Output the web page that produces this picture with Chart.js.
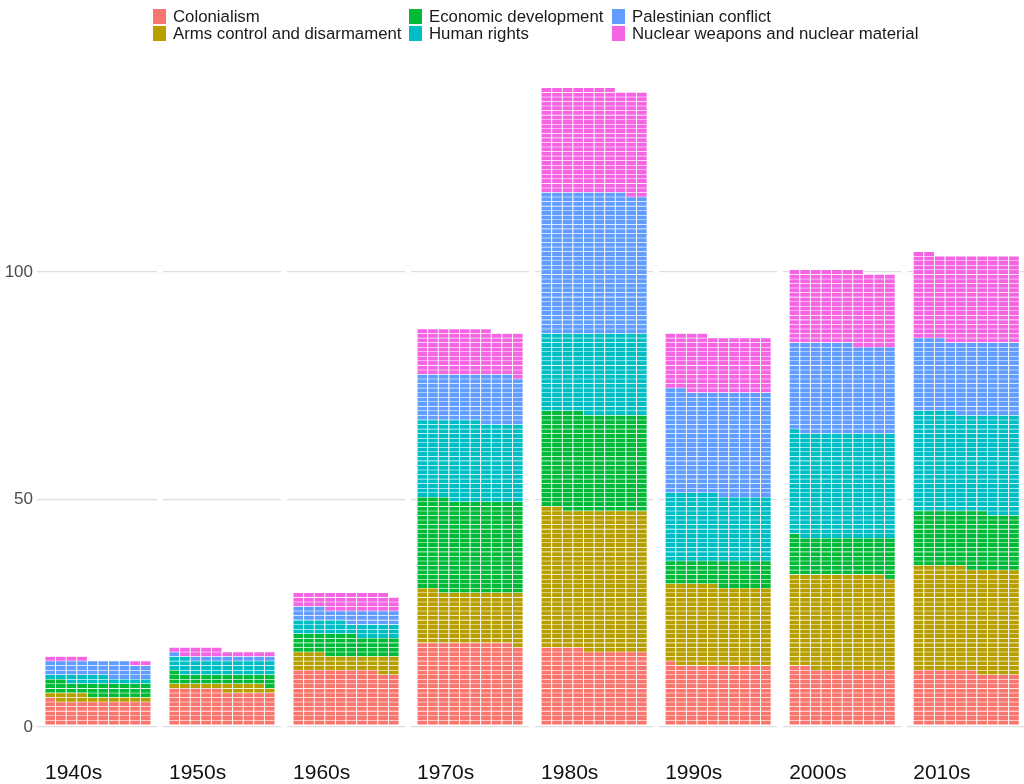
<!DOCTYPE html>
<html>
<head>
<meta charset="utf-8">
<script src="https://cdn.jsdelivr.net/npm/chart.js@4/dist/chart.umd.min.js"></script>
<style>
html,body{margin:0;padding:0;background:#fff;}
#wrap{position:relative;width:1024px;height:784px;overflow:hidden;}
#legend{position:absolute;left:0;top:0;width:1024px;height:50px;font-family:"Liberation Sans",Arial,sans-serif;font-size:16.8px;color:#1a1a1a;}
.item{position:absolute;display:flex;align-items:center;white-space:nowrap;height:17px;line-height:17px;}
.key{width:13px;height:15px;margin-right:7px;flex:none;}
</style>
</head>
<body>
<div id="wrap"><canvas id="c"></canvas><div id="legend"></div></div>
<script>
// ---- data (number of votes per issue per decade, one cell = one vote) ----
const decades = ["1940s","1950s","1960s","1970s","1980s","1990s","2000s","2010s"];
const categories = ["Colonialism","Arms control and disarmament","Economic development","Human rights","Palestinian conflict","Nuclear weapons and nuclear material"];
const colors = ["#F8766D","#B79F00","#00BA38","#00BFC4","#619CFF","#F564E3"];
const colonialism        = [51, 75, 118, 179, 164, 131, 122, 116];
const armsControl        = [13, 14, 35, 113, 308, 174, 207, 229];
const economicDevelopment= [28, 22, 43, 201, 212, 55, 82, 122];
const humanRights        = [14, 31, 29, 173, 176, 145, 230, 217];
const palestinianConflict= [32, 9, 28, 103, 308, 227, 195, 159];
const nuclearWeapons     = [6, 14, 36, 98, 229, 122, 161, 189];
const yTicks = [0, 50, 100];

const series = [colonialism, armsControl, economicDevelopment, humanRights, palestinianConflict, nuclearWeapons];
const COLS = 10;      // cells per row in each decade
const G = 11.7;       // column slots from one decade to the next

// waffle layout: fill rows of 10 left to right, bottom to top
const cellData = series.map(() => []);
decades.forEach((dec, d) => {
  let k = 0;
  series.forEach((s, c) => {
    for (let i = 0; i < s[d]; i++, k++) {
      const row = Math.floor(k / COLS) + 1;
      const col = k % COLS;
      cellData[c].push({x: d * G + col, y: [row - 0.5, row + 0.5]});
    }
  });
});

// ---- legend (column-major, 2 rows) ----
const legend = document.getElementById('legend');
const legCols = [153, 409, 612];
const legRows = [8, 25];
categories.forEach((name, i) => {
  const el = document.createElement('div');
  el.className = 'item';
  el.style.left = legCols[Math.floor(i / 2)] + 'px';
  el.style.top = legRows[i % 2] + 'px';
  el.innerHTML = '<span class="key" style="background:' + colors[i] + '"></span><span>' + name + '</span>';
  legend.appendChild(el);
});

const panelGaps = {
  id: 'panelGaps',
  beforeDatasetsDraw(chart) {
    const x = chart.scales.x, a = chart.chartArea, ctx = chart.ctx;
    ctx.save();
    ctx.fillStyle = '#ffffff';
    for (let d = 1; d < decades.length; d++) {
      const mid = (x.getPixelForValue((d - 1) * G + COLS - 0.5) + x.getPixelForValue(d * G - 0.5)) / 2;
      ctx.fillRect(mid - 3, a.top, 6, a.bottom - a.top);
    }
    ctx.restore();
  }
};

const canvas = document.getElementById('c');

new Chart(canvas, {
  type: 'bar',
  data: {
    datasets: categories.map((name, c) => ({
      label: name,
      data: cellData[c],
      backgroundColor: colors[c],
      borderColor: '#ffffff',
      borderWidth: {top: 0.6, bottom: 0.6, left: 0.8, right: 0.8},
      borderSkipped: false,
      grouped: false,
      barPercentage: 1,
      categoryPercentage: 1
    }))
  },
  options: {
    responsive: true,
    maintainAspectRatio: false,
    animation: false,
    layout: {padding: {top: 56, left: 0, right: 0, bottom: 0}},
    plugins: {legend: {display: false}, tooltip: {enabled: false}},
    scales: {
      x: {
        type: 'linear',
        offset: false,
        min: -1.25,
        max: (decades.length - 1) * G + COLS - 0.5 + 0.45,
        grid: {display: false, drawTicks: false, offset: false},
        border: {display: false},
        afterBuildTicks(scale) {
          scale.ticks = decades.map((_, d) => ({value: d * G - 0.5}));
        },
        afterFit(scale) { scale.height = 27.4; },
        ticks: {
          autoSkip: false,
          maxRotation: 0,
          align: 'start',
          padding: 4,
          color: '#111111',
          font: {family: '"Liberation Sans", Arial, sans-serif', size: 21},
          callback: (v, i) => decades[i]
        }
      },
      y: {
        type: 'linear',
        min: -6.5,
        max: 147.5,
        grid: {color: '#dedede', lineWidth: 1.2, drawTicks: false},
        border: {display: false},
        afterBuildTicks(scale) {
          scale.ticks = yTicks.map(v => ({value: v}));
        },
        afterFit(scale) { scale.width = 37; },
        ticks: {
          padding: 4,
          color: '#4d4d4d',
          font: {family: '"Liberation Sans", Arial, sans-serif', size: 17},
          callback: v => String(v)
        }
      }
    }
  },
  plugins: [panelGaps]
});
</script>
</body>
</html>
